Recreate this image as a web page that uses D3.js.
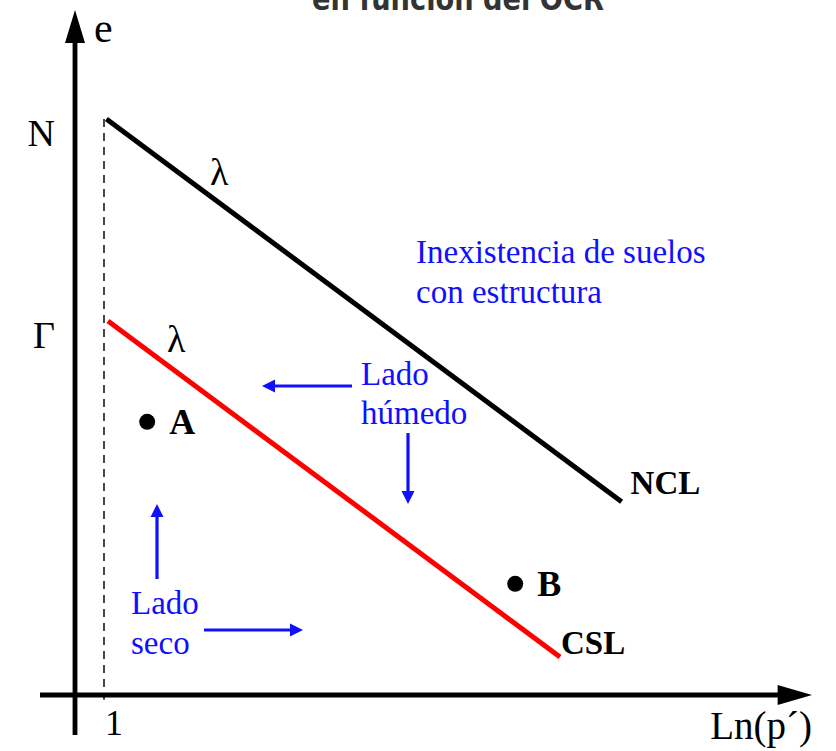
<!DOCTYPE html>
<html>
<head>
<meta charset="utf-8">
<script src="https://cdn.jsdelivr.net/npm/d3@7/dist/d3.min.js"></script>
<style>
  html, body { margin: 0; padding: 0; background: #fff; }
  svg { display: block; }
</style>
</head>
<body>
<svg id="chart" width="836" height="751"></svg>
<script>
// Void ratio e against Ln(p'): normal consolidation and critical state lines
const title = "en función del OCR";

// Lines in (Ln p', e) units
const nclLine = [{ x: 0.03, e: 14.4 }, { x: 6.47, e: 4.83 }];
const cslLine = [{ x: 0.05, e: 9.35 }, { x: 5.70, e: 0.95 }];

// Soil states
const pointNames = ["A", "B"];
const pointX = [0.54, 5.14];
const pointE = [6.83, 2.78];

// Axis tick labels
const yTickLabels = ["N", "Γ"];
const yTickValues = [14.4, 9.35];
const xTickLabels = ["1"];
const xTickValues = [0];

const lineLabels = ["NCL", "CSL"];
const slopeLabel = "λ";

const svg = d3.select("#chart");
const serif = "'Liberation Serif', 'Times New Roman', serif";
const blue = "#1010ff";

// Scales: origin of the drawn axes sits left of / below the Ln p' = 0 line
const x = d3.scaleLinear().domain([-0.4, 8.85]).range([72, 812]);
const y = d3.scaleLinear().domain([0, 17.125]).range([695, 10]);

// Title (partially visible at the top edge)
svg.append("text")
  .attr("x", 458).attr("y", 10)
  .attr("text-anchor", "middle")
  .attr("font-family", "'Liberation Sans Narrow', 'DejaVu Sans Condensed', sans-serif")
  .attr("font-weight", "bold")
  .attr("font-size", 32)
  .attr("fill", "#333")
  .attr("textLength", 292)
  .attr("lengthAdjust", "spacingAndGlyphs")
  .text(title);

// Dashed reference at Ln p' = 0
svg.append("line")
  .attr("x1", x(0)).attr("x2", x(0))
  .attr("y1", y(14.4)).attr("y2", y(-0.12))
  .attr("stroke", "#333").attr("stroke-width", 1.8)
  .attr("stroke-dasharray", "8,6");

// Axes with arrowheads
const axisX0 = x(-0.4) + 3;
svg.append("line")
  .attr("x1", axisX0).attr("x2", axisX0)
  .attr("y1", y(-1)).attr("y2", y(16.4))
  .attr("stroke", "#000").attr("stroke-width", 4.8);
svg.append("path")
  .attr("d", `M${axisX0},${y(17.125)} L${axisX0 - 10},${y(16.3)} L${axisX0 + 10},${y(16.3)} Z`)
  .attr("fill", "#000");

svg.append("line")
  .attr("x1", x(-0.8)).attr("x2", x(8.5))
  .attr("y1", y(0)).attr("y2", y(0))
  .attr("stroke", "#000").attr("stroke-width", 4.8);
svg.append("path")
  .attr("d", `M${x(8.85)},${y(0)} L${x(8.42)},${y(0) - 10} L${x(8.42)},${y(0) + 10} Z`)
  .attr("fill", "#000");

// Axis names
svg.append("text").attr("x", axisX0 + 19).attr("y", 42)
  .attr("font-family", serif).attr("font-size", 42).text("e");
svg.append("text").attr("x", x(8.85)).attr("y", 739)
  .attr("text-anchor", "end")
  .attr("font-family", serif).attr("font-size", 39).text("Ln(p´)");

// Tick labels
yTickValues.forEach((v, i) => {
  svg.append("text").attr("x", 55).attr("y", y(v) + 27)
    .attr("text-anchor", "end")
    .attr("font-family", serif).attr("font-size", 38)
    .text(yTickLabels[i]);
});
xTickValues.forEach((v, i) => {
  svg.append("text").attr("x", x(v) + 1).attr("y", 735)
    .attr("font-family", serif).attr("font-size", 36)
    .text(xTickLabels[i]);
});

// NCL and CSL
const line = d3.line().x(d => x(d.x)).y(d => y(d.e));
svg.append("path").datum(nclLine).attr("d", line)
  .attr("fill", "none").attr("stroke", "#000").attr("stroke-width", 5);
svg.append("path").datum(cslLine).attr("d", line)
  .attr("fill", "none").attr("stroke", "#ff0000").attr("stroke-width", 5);

// Line names
const nclEnd = nclLine[1], cslEnd = cslLine[1];
svg.append("text").attr("x", x(nclEnd.x) + 9).attr("y", y(nclEnd.e) - 8)
  .attr("font-family", serif).attr("font-weight", "bold").attr("font-size", 33)
  .text(lineLabels[0]);
svg.append("text").attr("x", x(cslEnd.x) + 1).attr("y", y(cslEnd.e) - 3)
  .attr("font-family", serif).attr("font-weight", "bold").attr("font-size", 33)
  .text(lineLabels[1]);

// Slope labels
svg.append("text").attr("x", 210).attr("y", 185)
  .attr("font-family", serif).attr("font-size", 38).text(slopeLabel);
svg.append("text").attr("x", 167).attr("y", 352)
  .attr("font-family", serif).attr("font-size", 38).text(slopeLabel);

// States A and B
pointNames.forEach((n, i) => {
  const cx = x(pointX[i]), cy = y(pointE[i]);
  svg.append("circle").attr("cx", cx).attr("cy", cy).attr("r", 8).attr("fill", "#000");
  svg.append("text").attr("x", cx + 22).attr("y", cy + 12)
    .attr("font-family", serif).attr("font-weight", "bold").attr("font-size", 36)
    .text(n);
});

// Blue annotations
function blueText(lines, tx, ty, lh) {
  const t = svg.append("text").attr("font-family", serif).attr("font-size", 33).attr("fill", blue);
  lines.forEach((s, i) => t.append("tspan").attr("x", tx).attr("y", ty + i * lh).text(s));
}
blueText(["Inexistencia de suelos", "con estructura"], 416, 263, 40);
blueText(["Lado", "húmedo"], 361, 385, 39);
blueText(["Lado", "seco"], 131, 614, 40);

function arrow(x1, y1, x2, y2) {
  const ang = Math.atan2(y2 - y1, x2 - x1);
  const hl = 13, hw = 6.5;
  const bx = x2 - hl * Math.cos(ang), by = y2 - hl * Math.sin(ang);
  svg.append("line").attr("x1", x1).attr("y1", y1).attr("x2", bx).attr("y2", by)
    .attr("stroke", blue).attr("stroke-width", 3.2);
  const px = -Math.sin(ang) * hw, py = Math.cos(ang) * hw;
  svg.append("path")
    .attr("d", `M${x2},${y2} L${bx + px},${by + py} L${bx - px},${by - py} Z`)
    .attr("fill", blue);
}
arrow(352, 386, 262, 386);
arrow(408, 433, 408, 504);
arrow(157, 579, 157, 504);
arrow(204, 630, 303, 630);
</script>
</body>
</html>
